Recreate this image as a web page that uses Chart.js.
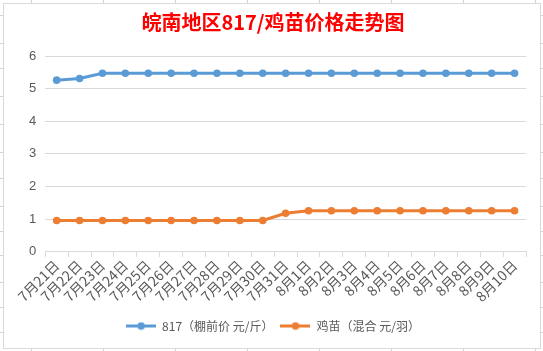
<!DOCTYPE html>
<html><head><meta charset="utf-8">
<script src="https://cdn.jsdelivr.net/npm/chart.js@4/dist/chart.umd.min.js"></script>
<style>
html,body{margin:0;padding:0;background:#fff;}
#sheet{position:absolute;left:0;top:0;width:543px;height:351px;overflow:hidden;background:#fff;}
.vl{position:absolute;top:0;width:1px;height:351px;background:#d4d4d4;}
.hl{position:absolute;left:0;height:1px;width:543px;background:#d4d4d4;}
#box{position:absolute;left:3px;top:3px;width:536px;height:344px;border:1px solid #d9d9d9;background:#fff;}
#c{position:absolute;left:0;top:0;}
</style></head><body>
<div id="sheet"></div>
<script>
const categories = ["7月21日","7月22日","7月23日","7月24日","7月25日","7月26日","7月27日","7月28日","7月29日","7月30日","7月31日","8月1日","8月2日","8月3日","8月4日","8月5日","8月6日","8月7日","8月8日","8月9日","8月10日"];
const price817 = [5.26,5.31,5.47,5.47,5.47,5.47,5.47,5.47,5.47,5.47,5.47,5.47,5.47,5.47,5.47,5.47,5.47,5.47,5.47,5.47,5.47];
const chickPrice = [0.96,0.96,0.96,0.96,0.96,0.96,0.96,0.96,0.96,0.96,1.18,1.26,1.26,1.26,1.26,1.26,1.26,1.26,1.26,1.26,1.26];
const seriesNames = ["817（棚前价 元/斤）","鸡苗（混合 元/羽）"];
const yTicks = [0,1,2,3,4,5,6];
const titleText = "皖南地区817/鸡苗价格走势图";

// spreadsheet background lines
const sheet = document.getElementById('sheet');
[31,103,175,247,319,391,463,535].forEach(x=>{const d=document.createElement('div');d.className='vl';d.style.left=x+'px';sheet.appendChild(d);});
[15,43,68,96,124,152,178,206,231,255,282,307,332].forEach(y=>{const d=document.createElement('div');d.className='hl';d.style.top=y+'px';sheet.appendChild(d);});
const box=document.createElement('div');box.id='box';sheet.appendChild(box);
const cv=document.createElement('canvas');cv.id='c';cv.width=536;cv.height=344;cv.style.width='536px';cv.style.height='344px';box.appendChild(cv);

function legendIcon(color){
  const c=document.createElement('canvas');c.width=30;c.height=9;
  const x=c.getContext('2d');
  x.strokeStyle=color;x.lineWidth=3;x.beginPath();x.moveTo(0,4.5);x.lineTo(30,4.5);x.stroke();
  x.fillStyle=color;x.beginPath();x.arc(15,4.5,3.8,0,Math.PI*2);x.fill();
  return c;
}
const colors=['#5b9bd5','#ed7d31'];
const icons=colors.map(legendIcon);
const gray='#595959';

new Chart(cv,{
  type:'line',
  data:{labels:categories,datasets:[
    {label:seriesNames[0],data:price817,borderColor:colors[0],backgroundColor:colors[0],borderWidth:3,pointRadius:3.8,pointHoverRadius:3.8,pointBorderWidth:0,tension:0},
    {label:seriesNames[1],data:chickPrice,borderColor:colors[1],backgroundColor:colors[1],borderWidth:3,pointRadius:3.8,pointHoverRadius:3.8,pointBorderWidth:0,tension:0}
  ]},
  options:{
    responsive:false,animation:false,
    layout:{padding:{left:16,right:14,top:0,bottom:6}},
    plugins:{
      title:{display:true,text:titleText,color:'#ff0000',font:{family:'"Noto Sans CJK SC"',size:20,weight:'bold'},padding:{top:6,bottom:22}},
      legend:{position:'bottom',labels:{usePointStyle:true,pointStyleWidth:30,color:gray,font:{family:'"Noto Sans CJK SC"',size:12},padding:7,
        generateLabels:(chart)=>Chart.defaults.plugins.legend.labels.generateLabels(chart).map((l,i)=>{l.pointStyle=icons[i];return l;})}},
      tooltip:{enabled:false}
    },
    scales:{
      x:{offset:true,afterFit:(s)=>{s.height+=8;},grid:{display:true,drawOnChartArea:false,drawTicks:true,tickLength:5,offset:true,color:'#d9d9d9'},border:{display:true,color:'#d9d9d9'},
        ticks:{minRotation:45,maxRotation:45,autoSkip:false,color:gray,font:{family:'"Noto Sans CJK SC"',size:14},padding:0}},
      y:{min:0,max:6,afterBuildTicks:(a)=>{a.ticks=yTicks.map(v=>({value:v}));},
        grid:{color:'#d9d9d9',drawTicks:false},border:{display:false},
        ticks:{color:gray,font:{family:'"Liberation Sans"',size:13},padding:9}}
    }
  }
});
</script></body></html>
